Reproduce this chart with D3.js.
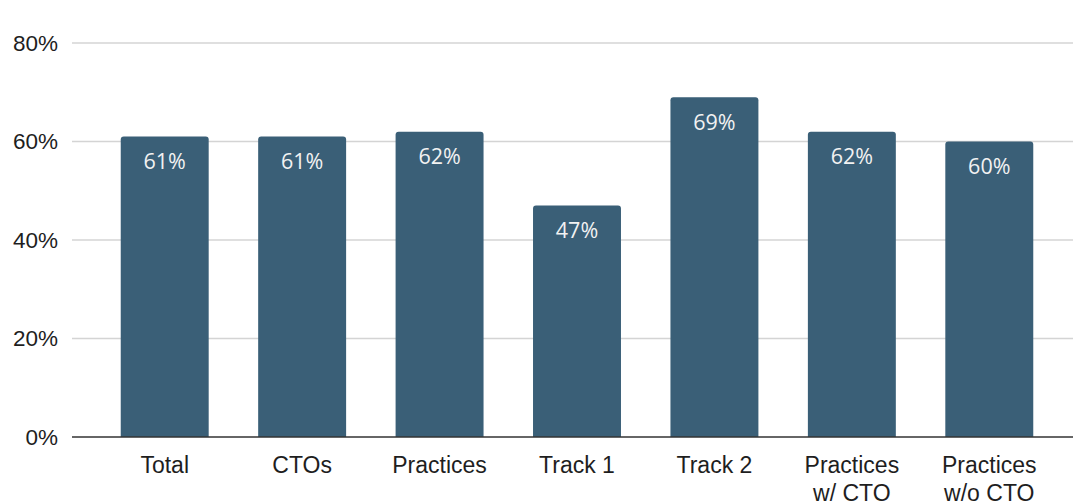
<!DOCTYPE html>
<html>
<head>
<meta charset="utf-8">
<script src="https://cdn.jsdelivr.net/npm/d3@7"></script>
<style>
  html, body { margin: 0; padding: 0; background: #ffffff; }
  svg { display: block; }
</style>
</head>
<body>
<svg id="chart" width="1073" height="504"></svg>
<script>
// Share of respondents by group
const categories = ["Total", "CTOs", "Practices", "Track 1", "Track 2", "Practices\nw/ CTO", "Practices\nw/o CTO"];
const values = [61, 61, 62, 47, 69, 62, 60];
const yTicks = [0, 20, 40, 60, 80];

const svg = d3.select("#chart");
const plot = { left: 72, right: 1073, top: 43, bottom: 437 };

const x = d3.scaleBand()
  .domain(categories)
  .range([96, 1058])
  .paddingInner(0.36)
  .paddingOuter(0.18);

const y = d3.scaleLinear()
  .domain([0, 80])
  .range([plot.bottom, plot.top]);

// Horizontal gridlines
svg.append("g")
  .selectAll("line")
  .data(yTicks.filter(d => d !== 0))
  .join("line")
  .attr("x1", plot.left)
  .attr("x2", plot.right)
  .attr("y1", d => y(d))
  .attr("y2", d => y(d))
  .attr("stroke", "#d4d4d4")
  .attr("stroke-width", 1.5);

// Y axis labels
const yAxis = d3.axisLeft(y)
  .tickValues(yTicks)
  .tickFormat(d => d + "%")
  .tickSize(0)
  .tickPadding(14);
const yg = svg.append("g")
  .attr("transform", `translate(${plot.left},0)`)
  .call(yAxis);
yg.select(".domain").remove();
yg.selectAll("text")
  .attr("font-family", "'Liberation Sans', Arial, sans-serif")
  .attr("font-size", 22.5)
  .attr("fill", "#1e1e1e");

// Bars with rounded tops
const r = 3;
function barPath(d, i) {
  const x0 = x(categories[i]);
  const w = x.bandwidth();
  const yt = y(d);
  const yb = y(0);
  return `M${x0},${yb} L${x0},${yt + r} Q${x0},${yt} ${x0 + r},${yt} ` +
         `L${x0 + w - r},${yt} Q${x0 + w},${yt} ${x0 + w},${yt + r} L${x0 + w},${yb} Z`;
}
svg.append("g")
  .selectAll("path")
  .data(values)
  .join("path")
  .attr("d", (d, i) => barPath(d, i))
  .attr("fill", "#3a5f77");

// Value labels inside bars
svg.append("g")
  .selectAll("text")
  .data(values)
  .join("text")
  .attr("x", (d, i) => x(categories[i]) + x.bandwidth() / 2)
  .attr("y", d => y(d) + 24)
  .attr("text-anchor", "middle")
  .attr("dominant-baseline", "central")
  .attr("font-family", "'Open Sans', sans-serif")
  .attr("font-size", 21.5)
  .attr("fill", "#f2f2f2")
  .text(d => d + "%");

// Baseline
svg.append("line")
  .attr("x1", plot.left)
  .attr("x2", plot.right)
  .attr("y1", y(0))
  .attr("y2", y(0))
  .attr("stroke", "#333")
  .attr("stroke-width", 1.5);

// Category labels
const xg = svg.append("g");
categories.forEach(c => {
  const cx = x(c) + x.bandwidth() / 2;
  const t = xg.append("text")
    .attr("x", cx)
    .attr("y", 473)
    .attr("text-anchor", "middle")
    .attr("font-family", "'Liberation Sans', Arial, sans-serif")
    .attr("font-size", 23)
    .attr("fill", "#1e1e1e");
  c.split("\n").forEach((line, k) => {
    t.append("tspan")
      .attr("x", cx)
      .attr("dy", k === 0 ? 0 : 28)
      .text(line);
  });
});
</script>
</body>
</html>
